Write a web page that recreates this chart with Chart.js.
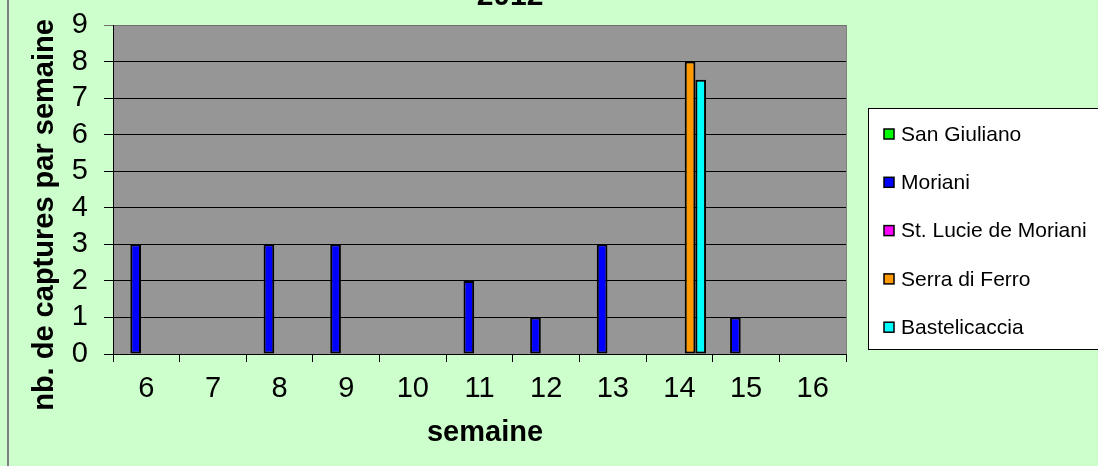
<!DOCTYPE html>
<html>
<head>
<meta charset="utf-8">
<script src="https://cdn.jsdelivr.net/npm/chart.js@4"></script>
<style>
  html, body { margin: 0; padding: 0; background: #CCFFCC; }
  #wrap { width: 1098px; height: 466px; }
</style>
</head>
<body>
<div id="wrap"><canvas id="graph"></canvas></div>
<script>
// semaines (catégories)
const weeks = ['6', '7', '8', '9', '10', '11', '12', '13', '14', '15', '16'];

// nb. de captures par semaine, par site
const sanGiuliano   = [null, null, null, null, null, null, null, null, null, null, null];
const moriani       = [3, null, 3, 3, null, 2, 1, 3, null, 1, null];
const stLucie       = [null, null, null, null, null, null, null, null, null, null, null];
const serraDiFerro  = [null, null, null, null, null, null, null, null, 8, null, null];
const bastelicaccia = [null, null, null, null, null, null, null, null, 7.5, null, null];

const seriesNames = ['San Giuliano', 'Moriani', 'St. Lucie de Moriani', 'Serra di Ferro', 'Bastelicaccia'];
const seriesColors = ['#00FF00', '#0000FF', '#FF00FF', '#FF9900', '#00FFFF'];

const yMin = 0;
const yMax = 9;

const chartTitle = '2012';
const xTitle = 'semaine';
const yTitle = 'nb. de captures par semaine';

const FONT = '"Liberation Sans", Arial, sans-serif';

const excelLook = {
    id: 'excelLook',
    beforeDraw(chart) {
        const { ctx, chartArea: a } = chart;
        ctx.save();
        ctx.fillStyle = '#CCFFCC';
        ctx.fillRect(0, 0, chart.width, chart.height);
        // bord gauche du graphique
        ctx.fillStyle = '#808080';
        ctx.fillRect(7, 0, 2, chart.height);
        // zone de traçage
        ctx.fillStyle = '#969696';
        ctx.fillRect(a.left, a.top, a.right - a.left, a.bottom - a.top);
        ctx.restore();
    },
    afterDraw(chart) {
        const { ctx, chartArea: a } = chart;
        ctx.save();
        // bord droit de la zone de traçage
        ctx.strokeStyle = '#808080';
        ctx.lineWidth = 1;
        ctx.beginPath();
        ctx.moveTo(a.right + 0.5, a.top);
        ctx.lineTo(a.right + 0.5, a.bottom);
        ctx.stroke();

        ctx.fillStyle = '#000';
        // titre (coupé en haut)
        ctx.font = 'bold 30px ' + FONT;
        ctx.textAlign = 'center';
        ctx.textBaseline = 'alphabetic';
        ctx.fillText(chartTitle, 510, 5);

        // titre axe x
        ctx.font = 'bold 29px ' + FONT;
        ctx.fillText(xTitle, 485, 441);

        // titre axe y
        ctx.save();
        ctx.translate(53, 215);
        ctx.rotate(-Math.PI / 2);
        ctx.fillText(yTitle, 0, 0);
        ctx.restore();

        // légende
        ctx.fillStyle = '#FFFFFF';
        ctx.fillRect(868.5, 108.5, 240, 241);
        ctx.strokeStyle = '#000';
        ctx.lineWidth = 1;
        ctx.strokeRect(868.5, 108.5, 240, 241);
        ctx.font = '21px ' + FONT;
        ctx.textAlign = 'left';
        ctx.textBaseline = 'middle';
        chart.data.datasets.forEach((ds, i) => {
            const cy = 134 + i * 48.3;
            ctx.fillStyle = ds.backgroundColor;
            ctx.fillRect(884, cy - 5, 10, 10);
            ctx.strokeStyle = '#000';
            ctx.lineWidth = 1.5;
            ctx.strokeRect(884, cy - 5, 10, 10);
            ctx.fillStyle = '#000';
            ctx.fillText(ds.label, 901, cy + 1);
        });
        ctx.restore();
    }
};

const datasets = [sanGiuliano, moriani, stLucie, serraDiFerro, bastelicaccia].map((values, i) => ({
    label: seriesNames[i],
    data: values,
    backgroundColor: seriesColors[i],
    borderColor: '#000',
    borderWidth: 2,
    borderSkipped: false,
    categoryPercentage: 0.8,
    barPercentage: 1
}));

const config = {
    type: 'bar',
    data: { labels: weeks, datasets: datasets },
    options: {
        responsive: false,
        animation: false,
        devicePixelRatio: 1,
        layout: { padding: { left: 0, top: 25, right: 252, bottom: 0 } },
        plugins: {
            legend: { display: false },
            title: { display: false },
            tooltip: { enabled: false }
        },
        scales: {
            x: {
                offset: true,
                afterFit: scale => {
                    scale.height = 112;
                    scale.paddingLeft = 0;
                    scale.paddingRight = 0;
                },
                grid: {
                    drawOnChartArea: false,
                    drawTicks: true,
                    tickLength: 8,
                    color: '#000',
                    lineWidth: 1
                },
                border: { display: true, color: '#000', width: 1 },
                ticks: {
                    color: '#000',
                    font: { family: FONT, size: 29 },
                    padding: 10,
                    maxRotation: 0,
                    autoSkip: false
                }
            },
            y: {
                min: yMin,
                max: yMax,
                afterFit: scale => {
                    scale.width = 113;
                    scale.paddingTop = 0;
                    scale.paddingBottom = 0;
                },
                grid: {
                    color: c => (c.tick && c.tick.value === yMax ? '#707070' : '#000'),
                    lineWidth: 1,
                    tickLength: 9
                },
                border: { display: true, color: '#000', width: 1 },
                ticks: {
                    stepSize: 1,
                    autoSkip: false,
                    color: '#000',
                    font: { family: FONT, size: 29 },
                    padding: 16
                }
            }
        }
    },
    plugins: [excelLook]
};

const canvas = document.getElementById('graph');
canvas.width = 1098;
canvas.height = 466;
new Chart(canvas.getContext('2d'), config);
</script>
</body>
</html>
